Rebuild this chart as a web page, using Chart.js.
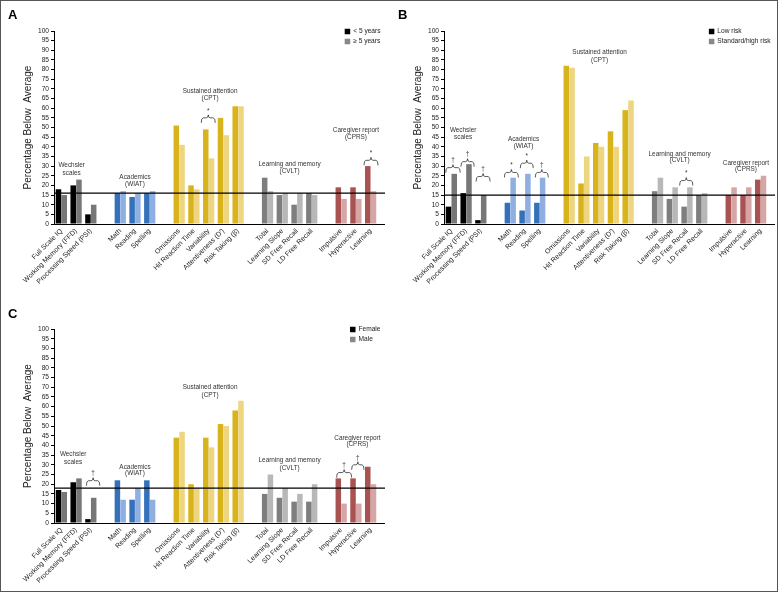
<!DOCTYPE html>
<html>
<head>
<meta charset="utf-8">
<script src="https://cdn.jsdelivr.net/npm/chart.js@4/dist/chart.umd.min.js"></script>
<style>
  body { margin: 0; background: #fff; }
  #figura { position: relative; width: 778px; height: 592px; overflow: hidden; background: #fff; }
  #figura canvas { position: absolute; }
  #moldura { position: absolute; left: 0; top: 0; width: 778px; height: 592px; border: 1px solid #555; box-sizing: border-box; }
</style>
</head>
<body>
<div id="figura">
  <canvas id="grafA" width="390" height="300" style="left:0;top:0"></canvas>
  <canvas id="grafB" width="388" height="300" style="left:390px;top:0"></canvas>
  <canvas id="grafC" width="390" height="293" style="left:0;top:299px"></canvas>
  <div id="moldura"></div>
</div>
<script>
// categorias (strings vazias = espaço entre grupos)
const categorias = ['Full Scale IQ', 'Working Memory (FFD)', 'Processing Speed (PSI)', '',
  'Math', 'Reading', 'Spelling', '',
  'Omissions', 'Hit Reaction Time', 'Variability', 'Attentiveness (D′)', 'Risk Taking (β)', '',
  'Total', 'Learning Slope', 'SD Free Recall', 'LD Free Recall', '',
  'Impulsive', 'Hyperactive', 'Learning'];

// painel A
const menos5Anos = [18, 20, 5, null, 16, 14, 16, null, 51, 20, 49, 55, 61, null, 24, 15, 10, 16, null, 19, 19, 30];
const mais5Anos  = [15, 23, 10, null, 17, 16, 17, null, 41, 18, 34, 46, 61, null, 17, 16, 16, 15, null, 13, 13, 17];
// painel B
const baixoRisco = [9, 16, 2, null, 11, 7, 11, null, 82, 21, 42, 48, 59, null, 17, 13, 9, 15, null, 15, 15, 23];
const altoRisco  = [26, 31, 15, null, 24, 26, 24, null, 81, 35, 40, 40, 64, null, 24, 19, 19, 16, null, 19, 19, 25];
// painel C
const feminino  = [17, 21, 2, null, 22, 12, 22, null, 44, 20, 44, 51, 58, null, 15, 13, 11, 11, null, 23, 23, 29];
const masculino = [16, 23, 13, null, 12, 18, 12, null, 47, 18, 39, 50, 63, null, 25, 18, 15, 20, null, 10, 10, 20];

const gruposTitulo = [['Wechsler', 'scales'], ['Academics', '(WIAT)'], ['Sustained attention', '(CPT)'],
  ['Learning and memory', '(CVLT)'], ['Caregiver report', '(CPRS)']];

// grupo de cada categoria -> cor
const grupoCategoria = [0, 0, 0, null, 1, 1, 1, null, 2, 2, 2, 2, 2, null, 3, 3, 3, 3, null, 4, 4, 4];
const coresEscuras = ['#000000', '#3471ba', '#d8b31c', '#7e7e7e', '#a95252'];
const coresClaras  = ['#777777', '#8fafe0', '#edd67f', '#b8b8b8', '#d6a6a6'];
const coresLegenda = ['#000000', '#888888'];

const FONTE = '"Liberation Sans", Arial, sans-serif';
Chart.defaults.font.family = FONTE;
Chart.defaults.color = '#222';

function criarAnotacoes(cfg) {
  return {
    id: 'anotacoes' + cfg.letra,
    afterDatasetsDraw(chart) {
      const { ctx, chartArea: area, scales: { y } } = chart;
      ctx.save();
      ctx.strokeStyle = '#000';
      // linha de referência
      ctx.lineWidth = 1.2;
      const yRef = y.getPixelForValue(cfg.ref);
      ctx.beginPath();
      ctx.moveTo(area.left, yRef);
      ctx.lineTo(area.right + 7, yRef);
      ctx.stroke();
      // eixo x
      ctx.lineWidth = 1;
      const yBase = Math.round(area.bottom) + 0.5;
      ctx.beginPath();
      ctx.moveTo(area.left, yBase);
      ctx.lineTo(area.right + 7, yBase);
      ctx.stroke();
      ctx.restore();
    },
    afterDraw(chart) {
      const { ctx, chartArea: area, scales: { x, y } } = chart;
      const passo = x.getPixelForValue(1) - x.getPixelForValue(0);
      const px = i => x.getPixelForValue(0) + i * passo;
      ctx.save();

      // letra do painel
      ctx.fillStyle = '#000';
      ctx.font = 'bold 13px ' + FONTE;
      ctx.textAlign = 'left';
      ctx.textBaseline = 'alphabetic';
      ctx.fillText(cfg.letra, 8, 19);

      // títulos dos grupos
      ctx.font = '6.4px ' + FONTE;
      ctx.fillStyle = '#333';
      ctx.textAlign = 'center';
      ctx.textBaseline = 'middle';
      cfg.rotulos.forEach((r, k) => {
        ctx.fillText(gruposTitulo[k][0], px(r[0]), y.getPixelForValue(r[1]));
        ctx.fillText(gruposTitulo[k][1], px(r[0]), y.getPixelForValue(r[2]));
      });

      // chaves de significância
      ctx.strokeStyle = '#333';
      ctx.lineWidth = 0.8;
      cfg.chaves.forEach(([a, b, v, s]) => {
        const x1 = px(a), x2 = px(b), xm = (x1 + x2) / 2, yy = y.getPixelForValue(v);
        ctx.beginPath();
        ctx.moveTo(x1, yy + 5);
        ctx.quadraticCurveTo(x1, yy, x1 + 2, yy);
        ctx.lineTo(xm - 2, yy);
        ctx.quadraticCurveTo(xm, yy, xm, yy - 3);
        ctx.quadraticCurveTo(xm, yy, xm + 2, yy);
        ctx.lineTo(x2 - 2, yy);
        ctx.quadraticCurveTo(x2, yy, x2, yy + 5);
        ctx.stroke();
        ctx.fillText(s, xm, yy - 7);
      });

      // legenda
      ctx.font = '6.6px ' + FONTE;
      ctx.textAlign = 'left';
      const nomes = chart.data.datasets.map(d => d.label);
      const larg = Math.max(...nomes.map(n => ctx.measureText(n).width));
      const xCaixa = area.right + 2 - larg - 8;
      nomes.forEach((n, k) => {
        const yc = area.top + 0.5 + k * 10;
        ctx.fillStyle = coresLegenda[k];
        ctx.fillRect(xCaixa, yc - 2.75, 5.5, 5.5);
        ctx.fillStyle = '#222';
        ctx.fillText(n, xCaixa + 8.5, yc);
      });
      ctx.restore();
    }
  };
}

function criarPainel(cfg) {
  const canvas = document.getElementById(cfg.id);
  const W = canvas.width, H = canvas.height;
  return new Chart(canvas.getContext('2d'), {
    type: 'bar',
    data: {
      labels: categorias,
      datasets: [
        { label: cfg.nomes[0], data: cfg.escuro,
          backgroundColor: grupoCategoria.map(g => g === null ? 'rgba(0,0,0,0)' : coresEscuras[g]) },
        { label: cfg.nomes[1], data: cfg.claro,
          backgroundColor: grupoCategoria.map(g => g === null ? 'rgba(0,0,0,0)' : coresClaras[g]) }
      ]
    },
    options: {
      responsive: false,
      animation: false,
      layout: { padding: { left: 18, right: W - 378, top: cfg.topo, bottom: 0 } },
      datasets: { bar: { categoryPercentage: 0.78, barPercentage: 0.96, borderWidth: 0 } },
      plugins: { legend: { display: false }, tooltip: { enabled: false } },
      scales: {
        x: {
          grid: { display: false, drawTicks: false },
          border: { display: false },
          ticks: { autoSkip: false, maxRotation: 45, minRotation: 45, padding: 3,
                   font: { size: 7 }, color: '#222' },
          afterFit: s => { s.height = H - cfg.base; }
        },
        y: {
          min: 0, max: 100,
          ticks: { stepSize: 5, autoSkip: false, padding: 2, font: { size: 6.6 }, color: '#222' },
          grid: { display: true, drawOnChartArea: false, drawTicks: true, tickLength: 3, color: '#000' },
          border: { display: true, color: '#000', width: 1 },
          title: { display: true, text: 'Percentage Below  Average', font: { size: 10 }, color: '#222',
                   padding: { top: 4, bottom: 2 } },
          afterFit: s => { s.width = 36; }
        }
      }
    },
    plugins: [criarAnotacoes(cfg)]
  });
}

criarPainel({
  id: 'grafA', letra: 'A', nomes: ['< 5 years', '≥ 5 years'],
  escuro: menos5Anos, claro: mais5Anos, ref: 16, topo: 31, base: 224,
  rotulos: [[0.7, 30.6, 26.4], [5, 24.3, 20.8], [10.1, 69, 65], [15.5, 31, 27.3], [20, 48.7, 45.2]],
  chaves: [[9.5, 10.45, 55, '*'], [20.55, 21.5, 33, '*']]
});

criarPainel({
  id: 'grafB', letra: 'B', nomes: ['Low risk', 'Standard/high risk'],
  escuro: baixoRisco, claro: altoRisco, ref: 15, topo: 31, base: 224,
  rotulos: [[0.8, 48.7, 45.2], [4.9, 43.9, 40.1], [10.06, 89, 84.9], [15.5, 36.3, 33.2], [20, 31.5, 28.4]],
  chaves: [[-0.38, 0.6, 29.2, '†'], [0.65, 1.55, 32.3, '†'], [1.68, 2.63, 24.6, '†'],
           [3.6, 4.55, 26.7, '*'], [4.68, 5.56, 31.5, '*'], [5.7, 6.58, 26.7, '†'], [15.5, 16.4, 22.5, '*']]
});

criarPainel({
  id: 'grafC', letra: 'C', nomes: ['Female', 'Male'],
  escuro: feminino, claro: masculino, ref: 18, topo: 30, base: 224,
  rotulos: [[0.8, 35.6, 31.4], [5, 28.9, 25.8], [10.1, 70.1, 66.1], [15.5, 32.1, 28.3], [20.1, 43.5, 40.4]],
  chaves: [[1.7, 2.61, 21.8, '†'], [18.69, 19.71, 26, '†'], [19.71, 20.55, 30, '†']]
});
</script>
</body>
</html>
